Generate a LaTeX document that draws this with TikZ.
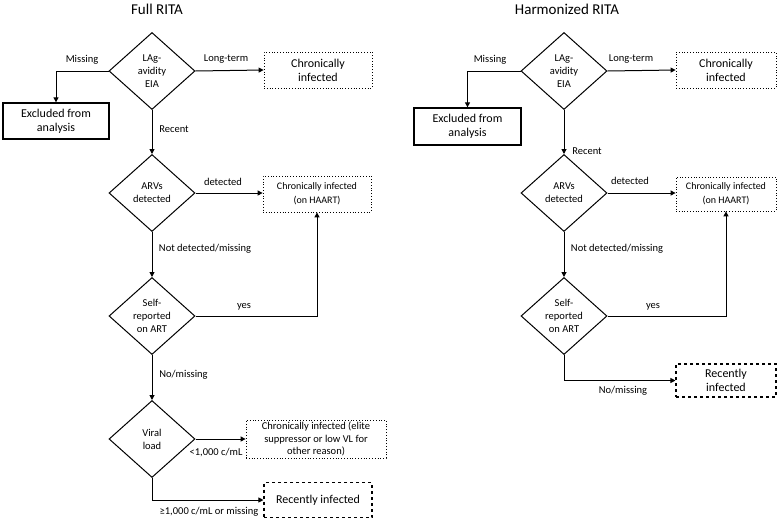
\documentclass[tikz,border=0pt]{standalone}
\usepackage{fontspec}
\setmainfont{Carlito}
\usepackage{tikz}
\usetikzlibrary{shapes.geometric, arrows.meta, positioning}
\tikzstyle{decision} = [diamond, draw, line width=1pt, minimum width=86pt, minimum height=77pt, inner sep=0pt, align=center, font=\fontsize{10.5}{13}\selectfont]
\tikzstyle{exclbox} = [draw, line width=1.3pt, minimum width=106pt, minimum height=36pt, inner sep=2pt, align=center, font=\fontsize{12}{14}\selectfont]
\tikzstyle{chronbox} = [draw, dotted, line width=0.8pt, minimum height=36pt, inner sep=2pt, align=center]
\tikzstyle{recentbox} = [draw, dashed, line width=1.1pt, minimum height=35pt, inner sep=2pt, align=center, font=\fontsize{12}{14}\selectfont]
\tikzstyle{edgelabel} = [inner sep=1pt, font=\fontsize{10.5}{12}\selectfont]
\tikzstyle{flow} = [line width=1pt, -{Triangle[length=5pt,width=5pt]}]
\tikzstyle{headline} = [font=\fontsize{15}{17}\selectfont]

\begin{document}
\begin{tikzpicture}[x=1pt, y=-1pt]
	\useasboundingbox (0,0) rectangle (777,520);
	% Full RITA
	\node[headline] (titleFull) at (157,9) {Full RITA};
	\node[decision] (lagFull) at (152,71) {LAg-\\avidity\\EIA};
	\node[decision] (arvFull) at (152,193) {ARVs\\detected};
	\node[decision] (sraFull) at (152,316) {Self-\\reported\\on ART};
	\node[decision] (vlFull) at (152,439) {Viral\\load};
	\node[exclbox] (exclFull) at (56,121) {Excluded from\\analysis};
	\node[chronbox, minimum width=108pt, font=\fontsize{12}{14}\selectfont] (chronFull) at (318,70) {Chronically\\infected};
	\node[chronbox, minimum width=108pt, font=\fontsize{10}{14}\selectfont] (haartFull) at (317,194) {Chronically infected\\(on HAART)};
	\node[chronbox, minimum width=140pt, font=\fontsize{10.5}{12.5}\selectfont] (eliteFull) at (316,439) {Chronically infected (elite\\suppressor or low VL for\\other reason)};
	\node[recentbox, minimum width=108pt] (recentFull) at (318,500) {Recently infected};
	\draw[flow] (lagFull.west) -| (exclFull.north);
	\draw[flow] (lagFull.east) -- (chronFull.west);
	\draw[flow] (lagFull.south) -- (arvFull.north);
	\draw[flow] (arvFull.east) -- (arvFull.east -| haartFull.west);
	\draw[flow] (arvFull.south) -- (sraFull.north);
	\draw[flow] (sraFull.east) -| (haartFull.south);
	\draw[flow] (sraFull.south) -- (vlFull.north);
	\draw[flow] (vlFull.east) -- (eliteFull.west);
	\draw[flow] (vlFull.south) |- (recentFull.west);
	\node[edgelabel] (missFull) at (82,60) {Missing};
	\node[edgelabel] (longFull) at (226,59) {Long-term};
	\node[edgelabel] (recFull) at (174,129) {Recent};
	\node[edgelabel] (detFull) at (223,182) {detected};
	\node[edgelabel] (notdetFull) at (205,249) {Not detected/missing};
	\node[edgelabel] (yesFull) at (244,307) {yes};
	\node[edgelabel] (nomissFull) at (183.5,375) {No/missing};
	\node[edgelabel] (lowFull) at (216,453) {<1,000 c/mL};
	\node[edgelabel] (highFull) at (209,512) {≥1,000 c/mL or missing};
	% Harmonized RITA
	\node[headline] (titleHarm) at (567,9) {Harmonized RITA};
	\node[decision] (lagHarm) at (564,71) {LAg-\\avidity\\EIA};
	\node[decision] (arvHarm) at (564,193) {ARVs\\detected};
	\node[decision] (sraHarm) at (564,316) {Self-\\reported\\on ART};
	\node[exclbox, minimum width=107pt, minimum height=37pt] (exclHarm) at (467.5,126.5) {Excluded from\\analysis};
	\node[chronbox, minimum width=100pt, font=\fontsize{12}{14}\selectfont] (chronHarm) at (726,70) {Chronically\\infected};
	\node[chronbox, minimum width=100pt, minimum height=34pt, font=\fontsize{10}{14}\selectfont] (haartHarm) at (726,194) {Chronically infected\\(on HAART)};
	\node[recentbox, minimum width=100pt, minimum height=33pt] (recentHarm) at (726,380.5) {Recently\\infected};
	\draw[flow] (lagHarm.west) -| (exclHarm.north);
	\draw[flow] (lagHarm.east) -- (chronHarm.west);
	\draw[flow] (lagHarm.south) -- (arvHarm.north);
	\draw[flow] (arvHarm.east) -- (arvHarm.east -| haartHarm.west);
	\draw[flow] (arvHarm.south) -- (sraHarm.north);
	\draw[flow] (sraHarm.east) -| (haartHarm.south);
	\draw[flow] (sraHarm.south) |- (recentHarm.west);
	\node[edgelabel] (missHarm) at (490,60) {Missing};
	\node[edgelabel] (longHarm) at (631,59) {Long-term};
	\node[edgelabel] (recHarm) at (587,151) {Recent};
	\node[edgelabel] (detHarm) at (630,181) {detected};
	\node[edgelabel] (notdetHarm) at (617,249) {Not detected/missing};
	\node[edgelabel] (yesHarm) at (653,307) {yes};
	\node[edgelabel] (nomissHarm) at (623,391) {No/missing};
\end{tikzpicture}
\end{document}
